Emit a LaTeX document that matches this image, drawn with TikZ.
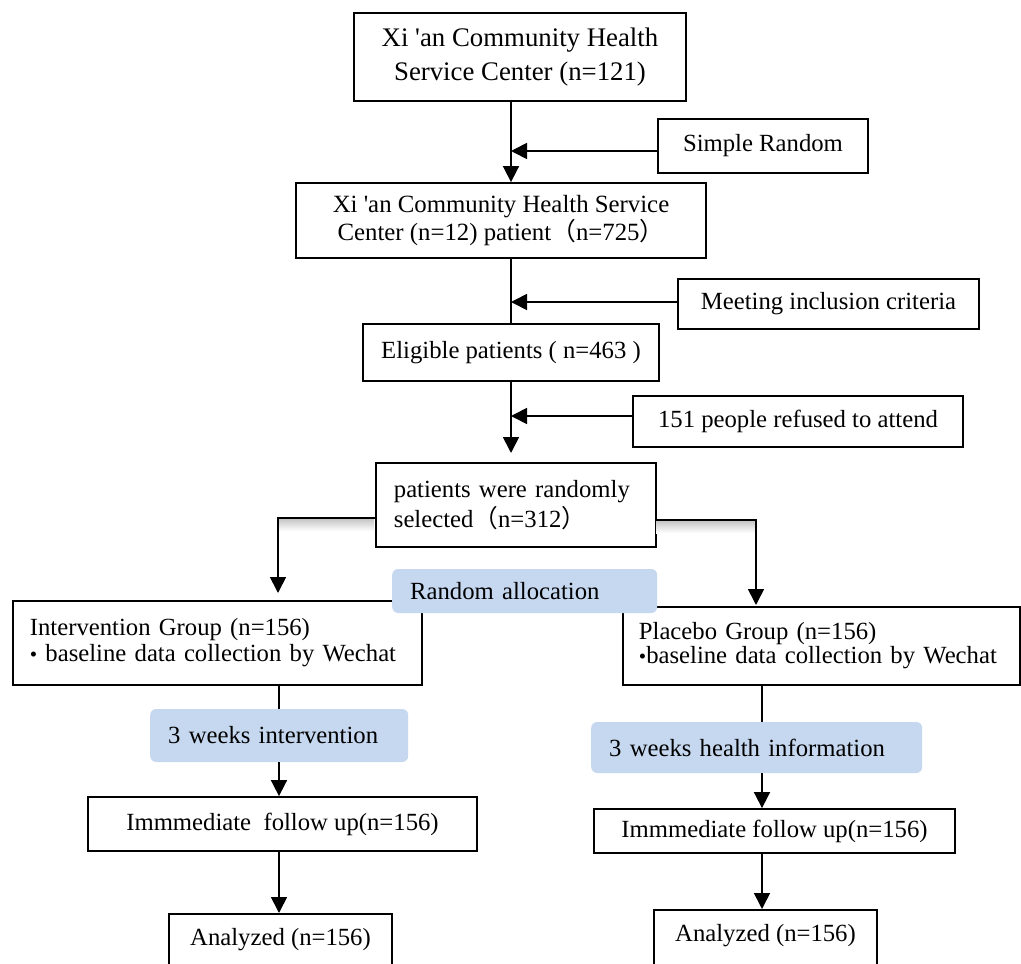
\documentclass[tikz,border=0pt]{standalone}
\usepackage{fontspec}
\setmainfont{Liberation Serif}[Ligatures=TeXOff]
\newfontfamily\cjkf{Noto Sans CJK SC}
\usetikzlibrary{arrows.meta,calc}
\definecolor{bluemain}{RGB}{198,216,240}
\definecolor{bluelight}{RGB}{236,242,251}
\pgfdeclareverticalshading{blueshade}{100bp}{color(0bp)=(bluemain); color(75bp)=(bluemain); color(100bp)=(bluelight)}
\newcommand\fwl{{\cjkf （}}
\newcommand\fwr{{\cjkf ）}}
\newcommand\bul{{\fontsize{21pt}{21pt}\selectfont\textbullet}}
\tikzset{
  box/.style={draw=black, line width=1.8pt, inner sep=0pt, fill=white},
  txt/.style={font=\fontsize{24.7pt}{30pt}\selectfont},
  arr/.style={line width=1.7pt, -{Triangle[width=16pt,length=16pt]}},
  ln/.style={line width=1.7pt},
  bluebox/.style={shading=blueshade, rounded corners=6pt, inner sep=0pt, draw=none},
  shad/.style={top color=gray!45, bottom color=white, draw=none}
}
\begin{document}
\begin{tikzpicture}[x=1pt,y=-1pt]
\useasboundingbox (0,0) rectangle (1021,964);
\clip (0,0) rectangle (1021,964);
\fill[white] (0,0) rectangle (1021,964);
% helper coordinates
\coordinate (xm) at (511,0);
\coordinate (xr) at (762,0);
\coordinate (xl) at (279,0);
\coordinate (ya) at (0,151);
\coordinate (yb) at (0,302);
\coordinate (yc) at (0,416);
\coordinate (yl) at (0,518);
\coordinate (yr) at (0,520);
\coordinate (ptip) at (511,453);
\coordinate (ltip) at (278,593);
\coordinate (rtip) at (756,605);

% boxes
\node[box, txt, minimum width=332pt, minimum height=88pt, align=center,
  font=\fontsize{26.8pt}{34pt}\selectfont] (b1) at (520,57)
  {Xi 'an Community Health\\Service Center (n=121)};
\node[box, txt, minimum width=210pt, minimum height=54pt] (sr) at (763,146) {Simple Random};
\node[box, txt, minimum width=410pt, minimum height=75pt, align=center,
  font=\fontsize{24.8pt}{28pt}\selectfont] (b2) at (501,220.5)
  {Xi 'an Community Health Service\\Center (n=12) patient\fwl n=725\fwr};
\node[box, txt, minimum width=301pt, minimum height=50pt] (mic) at (828.5,304) {Meeting inclusion criteria};
\node[box, txt, minimum width=296pt, minimum height=57pt] (elig) at (511,352.5) {Eligible patients ( n=463 )};
\node[box, txt, minimum width=330pt, minimum height=51pt] (ref) at (798,421.5) {151 people refused to attend};
\node[box, txt, anchor=west, minimum width=280pt, minimum height=84pt, inner xsep=18pt,
  text width=244pt, align=left, font=\fontsize{24.7pt}{30pt}\selectfont] (pat) at (375,505)
  {patients were randomly\\selected\fwl n=312\fwr};

% shadows under branch lines
\fill[shad] (278,519) rectangle (374,531);
\fill[shad] (656,521) rectangle (756,533);

\node[box, txt, anchor=west, minimum width=409pt, minimum height=84pt, inner xsep=17pt,
  text width=375pt, align=left, font=\fontsize{24.7pt}{26pt}\selectfont] (ig) at (12,643)
  {Intervention Group (n=156)\\\bul\ baseline data collection by Wechat};
\node[box, txt, anchor=west, minimum width=397pt, minimum height=78pt, inner xsep=16pt,
  text width=365pt, align=left, font=\fontsize{24.7pt}{24pt}\selectfont] (pg) at (622,646)
  {Placebo Group (n=156)\\\bul baseline data collection by Wechat};

\node[bluebox, txt, anchor=west, minimum width=265pt, minimum height=44pt, text width=229pt,
  inner xsep=18pt, align=left] (ra) at (392,591) {Random allocation};

\node[bluebox, txt, anchor=west, minimum width=258pt, minimum height=53pt, text width=222pt,
  inner xsep=18pt, align=left] (w1) at (150,735.5) {3 weeks intervention};
\node[bluebox, txt, anchor=west, minimum width=331pt, minimum height=51pt, text width=295pt,
  inner xsep=18pt, align=left] (w2) at (591,747.5) {3 weeks health information};

\node[box, txt, minimum width=389pt, minimum height=54pt] (im1) at (282.5,824) {Immmediate\ \ follow up(n=156)};
\node[box, txt, minimum width=361pt, minimum height=44pt] (im2) at (774.5,831) {Immmediate follow up(n=156)};

\node[box, txt, anchor=north, minimum width=223pt, text height=32pt, text depth=48pt] (an1) at (280.5,913) {Analyzed (n=156)};
\node[box, txt, anchor=north, minimum width=223pt, text height=32pt, text depth=50pt] (an2) at (765.5,909) {Analyzed (n=156)};

% connectors
\draw[arr] (b1.south -| xm) -- (b2.north -| xm);
\draw[arr] (sr.west |- ya) -- (xm |- ya);
\draw[ln] (b2.south -| xm) -- (elig.north -| xm);
\draw[arr] (mic.west |- yb) -- (xm |- yb);
\draw[arr] (elig.south -| xm) -- (ptip);
\draw[arr] (ref.west |- yc) -- (xm |- yc);
\draw[arr] (pat.west |- yl) -| (ltip);
\draw[arr] (pat.east |- yr) -| (rtip);
\draw[ln] (ig.south -| xl) -- (w1.north -| xl);
\draw[arr] (w1.south -| xl) -- (im1.north -| xl);
\draw[arr] (im1.south -| xl) -- (an1.north -| xl);
\draw[ln] (pg.south -| xr) -- (w2.north -| xr);
\draw[arr] (w2.south -| xr) -- (im2.north -| xr);
\draw[arr] (im2.south -| xr) -- (an2.north -| xr);
\end{tikzpicture}
\end{document}
